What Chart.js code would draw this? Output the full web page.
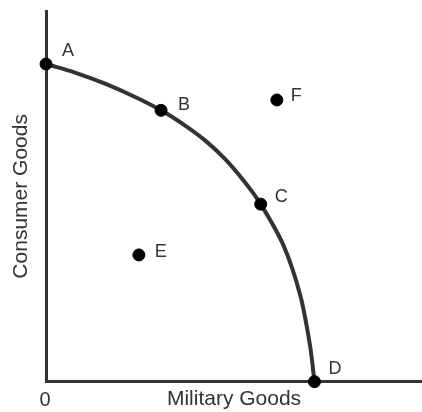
<!DOCTYPE html>
<html>
<head>
<meta charset="utf-8">
<script src="https://cdn.jsdelivr.net/npm/chart.js@4/dist/chart.umd.min.js"></script>
<style>
  html, body { margin: 0; padding: 0; background: #ffffff; }
  #wrap { width: 422px; height: 412px; position: relative; }
</style>
</head>
<body>
<div id="wrap"><canvas id="c"></canvas></div>
<script>
// Production possibilities frontier (arbitrary units)
const frontierX = [0, 0.77, 1.57, 2.37, 3.06, 3.70, 4.23, 4.76, 5.29, 5.71, 6.31, 6.76, 7.02, 7.14];
const frontierY = [8.57, 8.34, 8.04, 7.68, 7.32, 6.91, 6.51, 6.01, 5.38, 4.79, 3.69, 2.34, 0.99, 0];

const pointLabels = ['A', 'B', 'C', 'D', 'E', 'F'];
const pointX = [0, 3.06, 5.71, 7.14, 2.47, 6.14];
const pointY = [8.57, 7.32, 4.79, 0, 3.42, 7.60];

const xTitle = 'Military Goods';
const yTitle = 'Consumer Goods';
const originValue = 0;
const originLabel = '0';

// label placement (style): offset of label's left edge / vertical centre from the dot
const labelOffsets = { A: [16, -13], B: [17, -5], C: [14, -7], D: [14, -13], E: [16, -3], F: [14, -4] };

const ink = '#333333';
const fontFamily = '"Liberation Sans", Arial, Helvetica, sans-serif';

const labelPlugin = {
  id: 'pointLetters',
  afterDatasetsDraw(chart) {
    const meta = chart.getDatasetMeta(1);
    const ctx = chart.ctx;
    ctx.save();
    ctx.fillStyle = ink;
    ctx.font = '18px ' + fontFamily;
    ctx.textAlign = 'left';
    ctx.textBaseline = 'middle';
    meta.data.forEach((el, i) => {
      const lab = pointLabels[i];
      const off = labelOffsets[lab] || [14, -6];
      ctx.fillText(lab, el.x + off[0], el.y + off[1]);
    });
    // origin label under the x axis
    const xs = chart.scales.x;
    ctx.font = '20px ' + fontFamily;
    ctx.textAlign = 'center';
    ctx.fillText(originLabel, xs.getPixelForValue(originValue) - 1, xs.top + 18.5);
    ctx.restore();
  }
};

new Chart(document.getElementById('c'), {
  type: 'scatter',
  data: {
    datasets: [
      {
        type: 'line',
        data: frontierX.map((x, i) => ({ x: x, y: frontierY[i] })),
        borderColor: ink,
        borderWidth: 4,
        pointRadius: 0,
        fill: false,
        tension: 0.3,
        clip: false,
        order: 2
      },
      {
        type: 'scatter',
        data: pointX.map((x, i) => ({ x: x, y: pointY[i] })),
        backgroundColor: '#000000',
        borderColor: '#000000',
        pointRadius: 6,
        pointHoverRadius: 6,
        clip: false,
        order: 1
      }
    ]
  },
  options: {
    responsive: true,
    maintainAspectRatio: false,
    animation: false,
    events: [],
    layout: { autoPadding: false, padding: { top: 11, right: 0, left: 0, bottom: 0 } },
    plugins: { legend: { display: false }, tooltip: { enabled: false } },
    scales: {
      x: {
        type: 'linear',
        min: 0,
        max: 10,
        grid: { display: false, drawTicks: false },
        border: { display: true, color: ink, width: 3 },
        ticks: { display: false, padding: 0 },
        title: {
          display: true,
          text: xTitle,
          color: ink,
          font: { size: 21, family: fontFamily },
          padding: { top: 0, bottom: 0 }
        },
        afterFit: (s) => { s.height = 30.3; }
      },
      y: {
        type: 'linear',
        min: 0,
        max: 10,
        grid: { display: false, drawTicks: false },
        border: { display: true, color: ink, width: 3 },
        ticks: { display: false, padding: 0 },
        title: {
          display: true,
          text: yTitle,
          color: ink,
          font: { size: 21, family: fontFamily },
          padding: { top: 9, bottom: 0 }
        },
        afterFit: (s) => { s.width = 46; }
      }
    }
  },
  plugins: [labelPlugin]
});
</script>
</body>
</html>
